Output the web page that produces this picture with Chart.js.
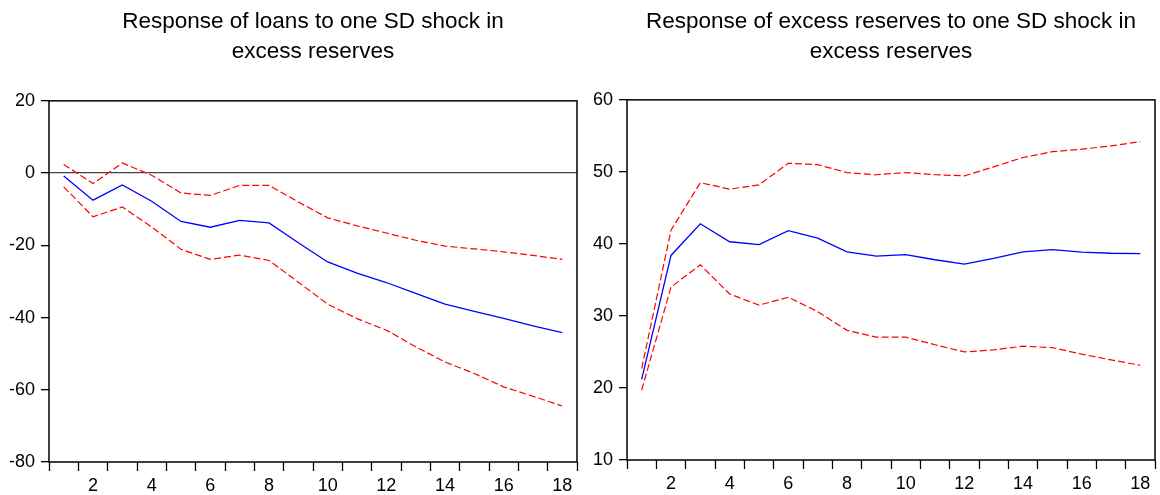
<!DOCTYPE html>
<html>
<head>
<meta charset="utf-8">
<script src="https://cdn.jsdelivr.net/npm/chart.js@4.4.1/dist/chart.umd.min.js"></script>
<style>
  html, body { margin: 0; padding: 0; background: #fff; }
  #wrap { position: relative; width: 1160px; height: 495px; }
  canvas { position: absolute; top: 0; }
</style>
</head>
<body>
<div id="wrap">
  <canvas id="loansChart" width="580" height="495" style="left:0"></canvas>
  <canvas id="reservesChart" width="580" height="495" style="left:580px"></canvas>
</div>
<script>
// periods after the shock
const periods = ['1','2','3','4','5','6','7','8','9','10','11','12','13','14','15','16','17','18'];

// response of loans (with +/- 2 SE bands)
const loansResp  = [-0.8, -7.5, -3.3, -7.8, -13.4, -15.0, -13.1, -13.8, -19.3, -24.6, -27.7, -30.3, -33.3, -36.3, -38.3, -40.2, -42.3, -44.2];
const loansUpper = [2.4, -2.9, 2.8, -0.6, -5.5, -6.2, -3.4, -3.4, -8.0, -12.4, -14.6, -16.6, -18.6, -20.2, -21.0, -21.8, -22.8, -23.9];
const loansLower = [-3.8, -12.1, -9.4, -14.9, -21.1, -23.9, -22.7, -24.2, -30.2, -36.3, -40.3, -43.5, -48.1, -52.3, -55.5, -59.2, -61.8, -64.5];

// response of excess reserves
const reservesResp  = [21.2, 38.4, 42.8, 40.3, 39.9, 41.85, 40.8, 38.9, 38.3, 38.5, 37.8, 37.2, 38.0, 38.9, 39.2, 38.85, 38.7, 38.65];
const reservesUpper = [22.7, 41.9, 48.5, 47.6, 48.2, 51.2, 51.0, 49.9, 49.6, 49.9, 49.6, 49.45, 50.7, 52.0, 52.8, 53.15, 53.6, 54.2];
const reservesLower = [19.7, 34.0, 37.1, 33.05, 31.5, 32.6, 30.6, 28.0, 27.05, 27.05, 26.0, 25.0, 25.3, 25.8, 25.6, 24.7, 23.9, 23.15];

const loansTitle = ['Response of loans to one SD shock in', 'excess reserves'];
const reservesTitle = ['Response of excess reserves to one SD shock in', 'excess reserves'];

const FONT = "'Liberation Sans', Arial, sans-serif";

// draws the box round the plot area
const frame = {
    id: 'frame',
    afterDraw(chart) {
        const a = chart.chartArea;
        const ctx = chart.ctx;
        ctx.save();
        ctx.strokeStyle = '#000';
        ctx.lineWidth = 1.5;
        ctx.strokeRect(a.left, a.top, a.right - a.left, a.bottom - a.top);
        ctx.restore();
    }
};

const makeChart = (id, title, resp, upper, lower, yMin, yMax, step, yWidth, xHeight, padRight, titleBottom) => {
    const ctx = document.getElementById(id).getContext('2d');
    const band = (data) => ({
        data: data,
        borderColor: '#ff0000',
        borderWidth: 1.2,
        borderDash: [7, 3],
        pointRadius: 0,
        fill: false,
        tension: 0
    });
    return new Chart(ctx, {
        type: 'line',
        data: {
            labels: periods,
            datasets: [
                band(upper),
                band(lower),
                {
                    data: resp,
                    borderColor: '#0000ff',
                    borderWidth: 1.3,
                    pointRadius: 0,
                    fill: false,
                    tension: 0
                }
            ]
        },
        options: {
            responsive: false,
            animation: false,
            layout: { padding: { left: 0, right: padRight, top: 0, bottom: 0 } },
            plugins: {
                legend: { display: false },
                tooltip: { enabled: false },
                title: {
                    display: true,
                    text: title,
                    fullSize: false,
                    color: '#000',
                    font: { family: FONT, size: 22.5, weight: 'normal', lineHeight: 1.33 },
                    padding: { top: 7, bottom: titleBottom }
                }
            },
            scales: {
                x: {
                    offset: true,
                    border: { display: false },
                    grid: {
                        offset: true,
                        drawOnChartArea: false,
                        drawTicks: true,
                        tickLength: 9,
                        tickColor: '#000',
                        tickWidth: 1.3
                    },
                    ticks: {
                        autoSkip: false,
                        maxRotation: 0,
                        color: '#000',
                        padding: 4,
                        font: { family: FONT, size: 18 },
                        callback: function (value, index) {
                            const label = this.getLabelForValue(value);
                            return Number(label) % 2 === 0 ? label : '';
                        }
                    },
                    afterFit: (scale) => { scale.height = xHeight; }
                },
                y: {
                    min: yMin,
                    max: yMax,
                    border: { display: false },
                    grid: {
                        drawOnChartArea: true,
                        drawTicks: true,
                        tickLength: 8,
                        tickColor: '#000',
                        tickWidth: 1.3,
                        lineWidth: 1.3,
                        // only the zero line is drawn across the plot
                        color: (c) => (c.tick && c.tick.value === 0) ? '#444' : 'rgba(0,0,0,0)'
                    },
                    ticks: {
                        stepSize: step,
                        color: '#000',
                        padding: 6,
                        font: { family: FONT, size: 18 }
                    },
                    afterFit: (scale) => { scale.width = yWidth; }
                }
            }
        },
        plugins: [frame]
    });
};

makeChart('loansChart', loansTitle, loansResp, loansUpper, loansLower, -80, 20, 20, 49, 33, 3, 34);
makeChart('reservesChart', reservesTitle, reservesResp, reservesUpper, reservesLower, 10, 60, 10, 47, 35, 5, 33);
</script>
</body>
</html>
